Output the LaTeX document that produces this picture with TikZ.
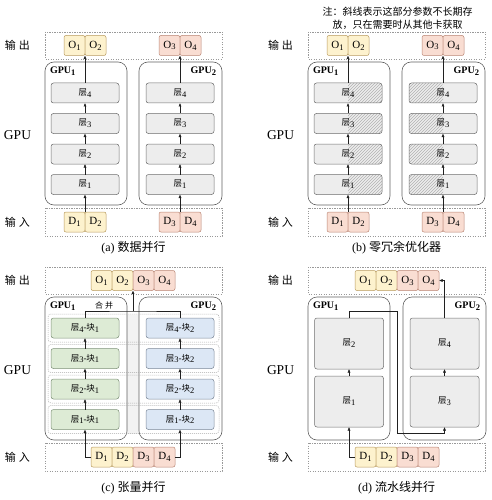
\documentclass[tikz,border=0pt]{standalone}
\usepackage{fontspec}
\setmainfont{Liberation Serif}
\newfontfamily\cjk{Noto Sans CJK SC}
\usetikzlibrary{arrows.meta,positioning,patterns}

\definecolor{yelfill}{HTML}{FDF2CE}
\definecolor{yeldraw}{HTML}{B89A5E}
\definecolor{pinkfill}{HTML}{F9DDD2}
\definecolor{pinkdraw}{HTML}{B98574}
\definecolor{grnfill}{HTML}{DDEBD5}
\definecolor{grndraw}{HTML}{7E9178}
\definecolor{blufill}{HTML}{DCE7F5}
\definecolor{bludraw}{HTML}{7C8898}
\definecolor{layfill}{HTML}{EDEDED}
\definecolor{laydraw}{HTML}{6E6E6E}

\newcommand{\lsub}[1]{\raisebox{-1.8pt}{\fontsize{8.5}{9}\selectfont #1}}
\newcommand{\ceng}[1]{{\cjk\fontsize{8.5}{9}\selectfont 层}\lsub{#1}}
\newcommand{\kuai}[1]{{\cjk\fontsize{8.5}{9}\selectfont 块}\lsub{#1}}

\begin{document}
\begin{tikzpicture}[
    x=1pt, y=1pt,
    every node/.style={inner sep=0pt, outer sep=0pt},
    side/.style={font=\cjk\fontsize{11}{13}\selectfont},
    gpuside/.style={font=\fontsize{13.5}{15}\selectfont},
    gname/.style={font=\bfseries\fontsize{10}{12}\selectfont},
    iobox/.style={draw=gray!80, line width=0.7pt, dash pattern=on 1.2pt off 1.3pt},
    gpubox/.style={draw=gray!75!black, line width=0.6pt, rounded corners=9pt},
    rowbox/.style={draw=gray!70, line width=0.5pt, dash pattern=on 1pt off 1pt, rounded corners=3pt},
    cell/.style={rectangle, rounded corners=2pt, line width=0.5pt, minimum width=21pt, minimum height=20pt, font=\fontsize{11}{13}\selectfont},
    ycell/.style={cell, draw=yeldraw, fill=yelfill},
    pcell/.style={cell, draw=pinkdraw, fill=pinkfill},
    blk/.style={rectangle, rounded corners=2.5pt, line width=0.5pt, draw=laydraw, fill=layfill, minimum width=68pt, minimum height=20pt, font=\fontsize{9}{11}\selectfont},
    gblk/.style={blk, draw=grndraw, fill=grnfill},
    bblk/.style={blk, draw=bludraw, fill=blufill},
    bigblk/.style={blk, minimum width=69pt, minimum height=51pt},
    hatchR/.style={path picture={\fill[pattern=north east lines, pattern color=gray!60] (path picture bounding box.north) rectangle (path picture bounding box.south east);}},
    hatchL/.style={path picture={\fill[pattern=north east lines, pattern color=gray!60] (path picture bounding box.south west) rectangle (path picture bounding box.north);}},
    wire/.style={draw=gray!25!black, line width=0.5pt},
    flow/.style={wire, -{Latex[length=3.5pt, width=3pt]}},
    caption/.style={font=\fontsize{12}{14}\selectfont},
    note/.style={font=\cjk\fontsize{10}{13}\selectfont, align=center},
]
    \useasboundingbox (0,0) rectangle (491,-500);

    % (a) data parallel
    \begin{scope}
        \node[side] (a-lout) at (17.5,-45.5) {输\hspace{3pt}出};
        \node[gpuside] (a-lgpu) at (17.5,-135) {GPU};
        \node[side] (a-lin) at (17.5,-222) {输\hspace{3pt}入};
        \draw[iobox] (45,-32) rectangle (222,-59);
        \draw[iobox] (45,-208) rectangle (222,-236);
        \draw[gpubox] (45,-62) rectangle (127,-205);
        \draw[gpubox] (139,-62) rectangle (222,-205);
        \node[gname, anchor=north west] (a-g1) at (50,-67) {GPU\lsub{1}};
        \node[gname, anchor=north east] (a-g2) at (216,-67) {GPU\lsub{2}};
        \node[ycell] (a-o1) at (74.5,-45.5) {O\lsub{1}};
        \node[ycell, right=0pt of a-o1] (a-o2) {O\lsub{2}};
        \node[pcell] (a-o3) at (169.5,-45.5) {O\lsub{3}};
        \node[pcell, right=0pt of a-o3] (a-o4) {O\lsub{4}};
        \node[ycell] (a-d1) at (74.5,-222) {D\lsub{1}};
        \node[ycell, right=0pt of a-d1] (a-d2) {D\lsub{2}};
        \node[pcell] (a-d3) at (169.5,-222) {D\lsub{3}};
        \node[pcell, right=0pt of a-d3] (a-d4) {D\lsub{4}};
        \foreach \i in {1,...,4} {
            \node[blk] (a-l\i) at (85,{-215+30.5*\i}) {\ceng{\i}};
            \node[blk] (a-r\i) at (180,{-215+30.5*\i}) {\ceng{\i}};
        }
        \foreach \i/\j in {1/2,2/3,3/4} {
            \draw[flow] (a-l\i.north) -- (a-l\j.south);
            \draw[flow] (a-r\i.north) -- (a-r\j.south);
        }
        \draw[flow] (a-d1.north east) -- (a-l1.south);
        \draw[flow] (a-d3.north east) -- (a-r1.south);
        \draw[flow] (a-l4.north) -- (a-o1.south east);
        \draw[flow] (a-r4.north) -- (a-o3.south east);
        \node[caption] (a-cap) at (133.5,-248) {(a)\ {\cjk 数据并行}};
    \end{scope}

    % (b) zero redundancy optimizer
    \begin{scope}[xshift=263pt]
        \node[note] (b-note) at (134.5,-18.5) {注：斜线表示这部分参数不长期存\\放，只在需要时从其他卡获取};
        \node[side] (b-lout) at (17.5,-45.5) {输\hspace{3pt}出};
        \node[gpuside] (b-lgpu) at (17.5,-135) {GPU};
        \node[side] (b-lin) at (17.5,-222) {输\hspace{3pt}入};
        \draw[iobox] (45,-32) rectangle (222,-59);
        \draw[iobox] (45,-208) rectangle (222,-236);
        \draw[gpubox] (45,-62) rectangle (127,-205);
        \draw[gpubox] (139,-62) rectangle (222,-205);
        \node[gname, anchor=north west] (b-g1) at (50,-67) {GPU\lsub{1}};
        \node[gname, anchor=north east] (b-g2) at (216,-67) {GPU\lsub{2}};
        \node[ycell] (b-o1) at (74.5,-45.5) {O\lsub{1}};
        \node[ycell, right=0pt of b-o1] (b-o2) {O\lsub{2}};
        \node[pcell] (b-o3) at (169.5,-45.5) {O\lsub{3}};
        \node[pcell, right=0pt of b-o3] (b-o4) {O\lsub{4}};
        \node[pcell] (b-d1) at (74.5,-222) {D\lsub{1}};
        \node[pcell, right=0pt of b-d1] (b-d2) {D\lsub{2}};
        \node[pcell] (b-d3) at (169.5,-222) {D\lsub{3}};
        \node[pcell, right=0pt of b-d3] (b-d4) {D\lsub{4}};
        \foreach \i in {1,...,4} {
            \node[blk, hatchR] (b-l\i) at (85,{-215+30.5*\i}) {\ceng{\i}};
            \node[blk, hatchL] (b-r\i) at (180,{-215+30.5*\i}) {\ceng{\i}};
        }
        \foreach \i/\j in {1/2,2/3,3/4} {
            \draw[flow] (b-l\i.north) -- (b-l\j.south);
            \draw[flow] (b-r\i.north) -- (b-r\j.south);
        }
        \draw[flow] (b-d1.north east) -- (b-l1.south);
        \draw[flow] (b-d3.north east) -- (b-r1.south);
        \draw[flow] (b-l4.north) -- (b-o1.south east);
        \draw[flow] (b-r4.north) -- (b-o3.south east);
        \node[caption] (b-cap) at (133.5,-248) {(b)\ {\cjk 零冗余优化器}};
    \end{scope}

    % (c) tensor parallel
    \begin{scope}[yshift=-235pt]
        \fill[gray!10] (127,-80) rectangle (139,-199);
        \node[side] (c-lout) at (17.5,-45.5) {输\hspace{3pt}出};
        \node[gpuside] (c-lgpu) at (17.5,-135) {GPU};
        \node[side] (c-lin) at (17.5,-222) {输\hspace{3pt}入};
        \draw[iobox] (45,-32) rectangle (222,-59);
        \draw[iobox] (45,-208) rectangle (222,-236);
        \draw[gpubox] (45,-62) rectangle (127,-205);
        \draw[gpubox] (139,-62) rectangle (222,-205);
        \node[gname, anchor=north west] (c-g1) at (50,-67) {GPU\lsub{1}};
        \node[gname, anchor=north east] (c-g2) at (216,-67) {GPU\lsub{2}};
        \node[ycell] (c-o1) at (101.5,-45.5) {O\lsub{1}};
        \node[ycell, right=0pt of c-o1] (c-o2) {O\lsub{2}};
        \node[pcell, right=0pt of c-o2] (c-o3) {O\lsub{3}};
        \node[pcell, right=0pt of c-o3] (c-o4) {O\lsub{4}};
        \node[ycell] (c-d1) at (101.5,-222) {D\lsub{1}};
        \node[ycell, right=0pt of c-d1] (c-d2) {D\lsub{2}};
        \node[pcell, right=0pt of c-d2] (c-d3) {D\lsub{3}};
        \node[pcell, right=0pt of c-d3] (c-d4) {D\lsub{4}};
        \foreach \i in {1,...,4} {
            \draw[rowbox] (48,{-229+30.5*\i}) rectangle (219,{-201+30.5*\i});
            \node[gblk] (c-l\i) at (85,{-215+30.5*\i}) {\ceng{\i}-\kuai{1}};
            \node[bblk] (c-r\i) at (180,{-215+30.5*\i}) {\ceng{\i}-\kuai{2}};
        }
        \foreach \i/\j in {1/2,2/3,3/4} {
            \draw[flow] (c-l\i.north) -- (c-l\j.south);
            \draw[flow] (c-r\i.north) -- (c-r\j.south);
        }
        \draw[flow] (c-d1.west) -| (c-l1.south);
        \draw[flow] (c-d4.east) -| (c-r1.south);
        % merge
        \coordinate (c-mg) at (133,-76);
        \draw[wire] (c-l4.north) |- (c-mg) -| (c-r4.north);
        \draw[flow] (c-mg) -- (c-o2.south east);
        \node[font=\cjk\fontsize{8}{9}\selectfont] (c-mtxt) at (104,-70) {合\hspace{2pt}并};
        \node[caption] (c-cap) at (133.5,-253) {(c)\ {\cjk 张量并行}};
    \end{scope}

    % (d) pipeline parallel
    \begin{scope}[xshift=263pt, yshift=-235pt]
        \node[side] (d-lout) at (17.5,-45.5) {输\hspace{3pt}出};
        \node[gpuside] (d-lgpu) at (17.5,-135) {GPU};
        \node[side] (d-lin) at (17.5,-222) {输\hspace{3pt}入};
        \draw[iobox] (45,-32) rectangle (222,-59);
        \draw[iobox] (45,-208) rectangle (222,-236);
        \draw[gpubox] (45,-62) rectangle (127,-205);
        \draw[gpubox] (140,-62) rectangle (223,-205);
        \node[gname, anchor=north west] (d-g1) at (50,-67) {GPU\lsub{1}};
        \node[gname, anchor=north east] (d-g2) at (217,-67) {GPU\lsub{2}};
        \node[ycell] (d-o1) at (102.5,-45.5) {O\lsub{1}};
        \node[ycell, right=0pt of d-o1] (d-o2) {O\lsub{2}};
        \node[pcell, right=0pt of d-o2] (d-o3) {O\lsub{3}};
        \node[pcell, right=0pt of d-o3] (d-o4) {O\lsub{4}};
        \node[ycell] (d-d1) at (102.5,-222) {D\lsub{1}};
        \node[ycell, right=0pt of d-d1] (d-d2) {D\lsub{2}};
        \node[pcell, right=0pt of d-d2] (d-d3) {D\lsub{3}};
        \node[pcell, right=0pt of d-d3] (d-d4) {D\lsub{4}};
        \node[bigblk] (d-l2) at (86,-108.5) {\ceng{2}};
        \node[bigblk] (d-l1) at (86,-166.5) {\ceng{1}};
        \node[bigblk] (d-r4) at (181.5,-108.5) {\ceng{4}};
        \node[bigblk] (d-r3) at (181.5,-166.5) {\ceng{3}};
        \draw[flow] (d-d1.west) -| (d-l1.south);
        \draw[flow] (d-l1.north) -- (d-l2.south);
        \coordinate (d-c1) at (134,-76);
        \coordinate (d-c2) at (134,-198);
        \draw[wire] (d-l2.north) |- (d-c1) -- (d-c2);
        \draw[flow] (d-c2) -| (d-r3.south);
        \draw[flow] (d-r3.north) -- (d-r4.south);
        \draw[flow] (d-r4.north) |- (d-o4.east);
        \node[caption] (d-cap) at (133.5,-253) {(d)\ {\cjk 流水线并行}};
    \end{scope}
\end{tikzpicture}
\end{document}
